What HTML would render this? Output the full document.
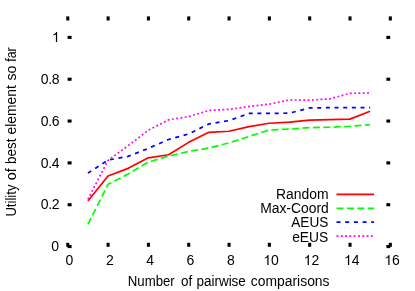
<!DOCTYPE html>
<html><head><meta charset="utf-8"><title>plot</title>
<style>
html,body{margin:0;padding:0;background:#fff;}
svg{display:block;will-change:transform;}
text{font-family:"Liberation Sans",sans-serif;font-size:14px;fill:#000;}
</style></head><body>
<svg width="415" height="291" viewBox="0 0 415 291">
<rect width="415" height="291" fill="#fff"/>

<g fill="#000">
<rect x="66.25" y="16.4" width="3.05" height="4.1"/>
<rect x="66.25" y="242.8" width="3.05" height="4.0"/>
<rect x="106.57" y="16.4" width="3.05" height="4.1"/>
<rect x="106.57" y="242.8" width="3.05" height="4.0"/>
<rect x="146.89" y="16.4" width="3.05" height="4.1"/>
<rect x="146.89" y="242.8" width="3.05" height="4.0"/>
<rect x="187.21" y="16.4" width="3.05" height="4.1"/>
<rect x="187.21" y="242.8" width="3.05" height="4.0"/>
<rect x="227.53" y="16.4" width="3.05" height="4.1"/>
<rect x="227.53" y="242.8" width="3.05" height="4.0"/>
<rect x="267.85" y="16.4" width="3.05" height="4.1"/>
<rect x="267.85" y="242.8" width="3.05" height="4.0"/>
<rect x="308.17" y="16.4" width="3.05" height="4.1"/>
<rect x="308.17" y="242.8" width="3.05" height="4.0"/>
<rect x="348.49" y="16.4" width="3.05" height="4.1"/>
<rect x="348.49" y="242.8" width="3.05" height="4.0"/>
<rect x="388.81" y="16.4" width="3.05" height="4.1"/>
<rect x="388.81" y="242.8" width="3.05" height="4.0"/>
<rect x="67.6" y="245.00" width="4.0" height="3.1"/>
<rect x="386.4" y="245.00" width="3.8" height="3.1"/>
<rect x="67.6" y="203.17" width="4.0" height="3.1"/>
<rect x="386.4" y="203.17" width="3.8" height="3.1"/>
<rect x="67.6" y="161.34" width="4.0" height="3.1"/>
<rect x="386.4" y="161.34" width="3.8" height="3.1"/>
<rect x="67.6" y="119.51" width="4.0" height="3.1"/>
<rect x="386.4" y="119.51" width="3.8" height="3.1"/>
<rect x="67.6" y="77.68" width="4.0" height="3.1"/>
<rect x="386.4" y="77.68" width="3.8" height="3.1"/>
<rect x="67.6" y="35.85" width="4.0" height="3.1"/>
<rect x="386.4" y="35.85" width="3.8" height="3.1"/>
</g>
<text x="59.00" y="251.20" text-anchor="end">0</text>
<text x="59.30" y="209.37" text-anchor="end" letter-spacing="-0.3">0.2</text>
<text x="59.30" y="167.54" text-anchor="end" letter-spacing="-0.3">0.4</text>
<text x="59.30" y="125.71" text-anchor="end" letter-spacing="-0.3">0.6</text>
<text x="59.30" y="83.88" text-anchor="end" letter-spacing="-0.3">0.8</text>
<path transform="translate(51.90,42.05) scale(0.014,-0.014)" d="M372.6 0H284.7V560Q253 530 201.4 499.5T108.9 454V539Q182.6 573.7 237.8 623T316 718.8H372.6Z"/>
<text x="65.61" y="265.1">0</text>
<text x="105.93" y="265.1">2</text>
<text x="146.25" y="265.1">4</text>
<text x="186.57" y="265.1">6</text>
<text x="226.89" y="265.1">8</text>
<path transform="translate(263.32,265.10) scale(0.014,-0.014)" d="M372.6 0H284.7V560Q253 530 201.4 499.5T108.9 454V539Q182.6 573.7 237.8 623T316 718.8H372.6Z"/>
<text x="271.10" y="265.1">0</text>
<path transform="translate(303.64,265.10) scale(0.014,-0.014)" d="M372.6 0H284.7V560Q253 530 201.4 499.5T108.9 454V539Q182.6 573.7 237.8 623T316 718.8H372.6Z"/>
<text x="311.42" y="265.1">2</text>
<path transform="translate(343.96,265.10) scale(0.014,-0.014)" d="M372.6 0H284.7V560Q253 530 201.4 499.5T108.9 454V539Q182.6 573.7 237.8 623T316 718.8H372.6Z"/>
<text x="351.74" y="265.1">4</text>
<path transform="translate(384.28,265.10) scale(0.014,-0.014)" d="M372.6 0H284.7V560Q253 530 201.4 499.5T108.9 454V539Q182.6 573.7 237.8 623T316 718.8H372.6Z"/>
<text x="392.06" y="265.1">6</text>
<text x="127.76" y="285.50" textLength="47.01" lengthAdjust="spacingAndGlyphs">Number</text>
<text x="181.01" y="285.50" textLength="11.22" lengthAdjust="spacingAndGlyphs">of</text>
<text x="196.38" y="285.50" textLength="49.51" lengthAdjust="spacingAndGlyphs">pairwise</text>
<text x="250.86" y="285.50" textLength="78.64" lengthAdjust="spacingAndGlyphs">comparisons</text>
<text transform="translate(16.10,216.59) rotate(-90)" textLength="32.04" lengthAdjust="spacingAndGlyphs">Utility</text>
<text transform="translate(16.10,180.14) rotate(-90)" textLength="12.00" lengthAdjust="spacingAndGlyphs">of</text>
<text transform="translate(16.10,164.02) rotate(-90)" textLength="25.49" lengthAdjust="spacingAndGlyphs">best</text>
<text transform="translate(16.10,134.43) rotate(-90)" textLength="49.17" lengthAdjust="spacingAndGlyphs">element</text>
<text transform="translate(16.10,80.52) rotate(-90)" textLength="14.89" lengthAdjust="spacingAndGlyphs">so</text>
<text transform="translate(16.10,61.77) rotate(-90)" textLength="14.41" lengthAdjust="spacingAndGlyphs">far</text>
<text x="276.07" y="199.40" textLength="52.54" lengthAdjust="spacingAndGlyphs">Random</text>
<text x="260.14" y="213.30" textLength="68.66" lengthAdjust="spacingAndGlyphs">Max-Coord</text>
<text x="291.26" y="227.00" textLength="37.05" lengthAdjust="spacingAndGlyphs">AEUS</text>
<text x="292.14" y="241.60" textLength="36.04" lengthAdjust="spacingAndGlyphs">eEUS</text>
<g fill="none" stroke-width="1.7" stroke-linejoin="round">
<polyline stroke="#ff0000" points="87.9,201.05 108.0,176.05 128.2,168.35 148.3,157.85 168.5,154.75 188.7,142.35 208.8,132.35 229.0,131.25 249.1,126.55 269.3,123.25 289.5,122.05 309.6,120.05 329.8,119.65 349.9,119.15 370.1,111.25"/>
<polyline stroke="#00ff00" stroke-dasharray="7.0 3.4" points="87.9,224.45 108.0,184.35 128.2,174.05 148.3,162.05 168.5,156.15 188.7,151.45 208.8,148.05 229.0,142.85 249.1,136.45 269.3,129.95 289.5,129.15 309.6,127.65 329.8,127.25 349.9,126.25 370.1,124.75"/>
<polyline stroke="#0000ff" stroke-dasharray="4.0 4.65" points="87.9,173.15 108.0,160.15 128.2,156.35 148.3,148.35 168.5,139.55 188.7,133.95 208.8,123.95 229.0,120.55 249.1,113.45 269.3,113.45 289.5,113.15 309.6,107.95 329.8,107.65 349.9,107.55 370.1,107.55"/>
<polyline stroke="#ff00ff" stroke-dasharray="1.9 2.4" points="87.9,199.35 108.0,160.35 128.2,145.65 148.3,130.30 168.5,119.80 188.7,116.65 208.8,110.45 229.0,109.35 249.1,106.55 269.3,104.15 289.5,99.95 309.6,100.15 329.8,98.85 349.9,93.35 370.1,92.95"/>
<path stroke="#ff0000" d="M336.5 194.45H374"/>
<path stroke="#00ff00" stroke-dasharray="7.0 3.4" d="M336.5 208.35H374"/>
<path stroke="#0000ff" stroke-dasharray="4.0 4.7" d="M336.5 222.2H374"/>
<path stroke="#ff00ff" stroke-dasharray="1.9 2.4" d="M336.5 236.1H374"/>
</g>
</svg></body></html>
